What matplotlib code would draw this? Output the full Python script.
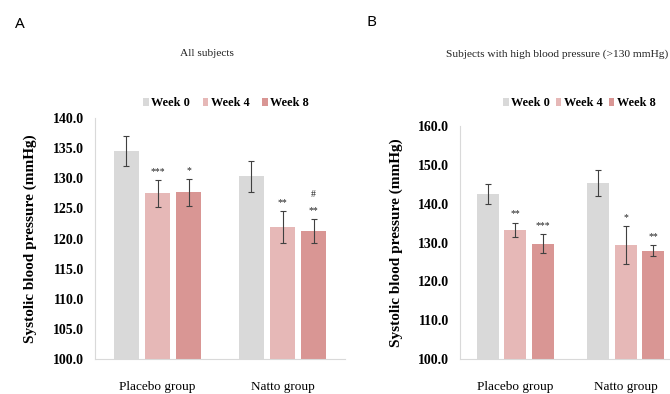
import matplotlib
matplotlib.use("Agg")
import matplotlib.pyplot as plt
from matplotlib.patches import Patch
import numpy as np

groups = ["Placebo group", "Natto group"]
weeks = ["Week 0", "Week 4", "Week 8"]

# Panel A: all subjects
a_means = {"Week 0": [134.5, 130.3], "Week 4": [127.5, 121.85], "Week 8": [127.65, 121.2]}
a_errs = {"Week 0": [2.45, 2.6], "Week 4": [2.2, 2.65], "Week 8": [2.25, 2.0]}
a_marks = {"Week 0": ["", ""], "Week 4": ["***", "**"], "Week 8": ["*", "#\n**"]}
a_ticks = [100, 105, 110, 115, 120, 125, 130, 135, 140]

# Panel B: subjects with high blood pressure
b_means = {"Week 0": [142.5, 145.3], "Week 4": [133.3, 129.4], "Week 8": [129.7, 127.9]}
b_errs = {"Week 0": [2.5, 3.3], "Week 4": [1.8, 4.9], "Week 8": [2.5, 1.5]}
b_marks = {"Week 0": ["", ""], "Week 4": ["**", "*"], "Week 8": ["***", "**"]}
b_ticks = [100, 110, 120, 130, 140, 150, 160]

colors = {"Week 0": "#d9d9d9", "Week 4": "#e6b8b7", "Week 8": "#d99694"}
serif = "Liberation Serif"

W, H = 670, 394
fig = plt.figure(figsize=(W / 100, H / 100), dpi=100)


def px_axes(x0, x1, y_top, y_bot):
    return fig.add_axes([x0 / W, 1 - y_bot / H, (x1 - x0) / W, (y_bot - y_top) / H])


def draw(ax, means, errs, marks, ticks, title, title_x, legend_x, colspace):
    x = np.arange(len(groups))
    offsets = [-0.25, 0.0, 0.25]
    for off, wk in zip(offsets, weeks):
        ax.bar(x + off, means[wk], width=0.2, color=colors[wk], label=wk, zorder=2)
        ax.errorbar(x + off, means[wk], yerr=errs[wk], fmt="none", ecolor="#404040",
                    elinewidth=0.8, capsize=2.2, capthick=0.8, zorder=3)
        for xi, m, e, t in zip(x + off, means[wk], errs[wk], marks[wk]):
            if t:
                ax.annotate(t, (xi, m + e), xytext=(0, 3), textcoords="offset points",
                            ha="center", va="bottom", fontsize=7, family=serif,
                            linespacing=2.0, color="#222222")
    ax.set_xlim(-0.5, 1.5)
    ax.set_ylim(ticks[0], ticks[-1])
    ax.set_yticks(ticks)
    ax.set_yticklabels([f"{t:.1f}" for t in ticks], family=serif, fontweight="bold", fontsize=10)
    ax.set_xticks(x)
    ax.set_xticklabels(groups, family=serif, fontsize=9.5)
    ax.tick_params(axis="both", length=0)
    ax.tick_params(axis="y", pad=8)
    ax.tick_params(axis="x", pad=16)
    for s in ["top", "right"]:
        ax.spines[s].set_visible(False)
    for s in ["left", "bottom"]:
        ax.spines[s].set_color("#d9d9d9")
        ax.spines[s].set_linewidth(0.8)
    ax.set_ylabel("Systolic blood pressure (mmHg)", family=serif, fontweight="bold", fontsize=11)
    fig.text(title_x / W, 1 - 54 / H, title, family=serif, fontsize=8.2, ha="center", va="center",
             color="#222222")
    handles = [Patch(facecolor=colors[wk], edgecolor="none") for wk in weeks]
    fig.legend(handles, weeks, loc="center left", bbox_to_anchor=(legend_x / W, 1 - 103 / H),
               ncol=3, frameon=False, handlelength=0.45, handleheight=0.6, handletextpad=0.2,
               columnspacing=colspace, borderaxespad=0, borderpad=0,
               prop={"family": serif, "weight": "bold", "size": 8.8})


axA = px_axes(95, 345, 118, 359)
draw(axA, a_means, a_errs, a_marks, a_ticks, "All subjects", 207, 143, 1.05)
axA.yaxis.set_label_coords(-0.23, 0.5)

axB = px_axes(460, 681, 126, 359)
draw(axB, b_means, b_errs, b_marks, b_ticks, "Subjects with high blood pressure (>130 mmHg)", 557,
     503, 0.5)
axB.yaxis.set_label_coords(-0.26, 0.5)

fig.text(20 / W, 1 - 24 / H, "A", family="Noto Sans", fontsize=11, ha="center", va="center")
fig.text(372 / W, 1 - 23 / H, "B", family="Noto Sans", fontsize=11, ha="center", va="center")

fig.savefig("out.png", dpi=100)
